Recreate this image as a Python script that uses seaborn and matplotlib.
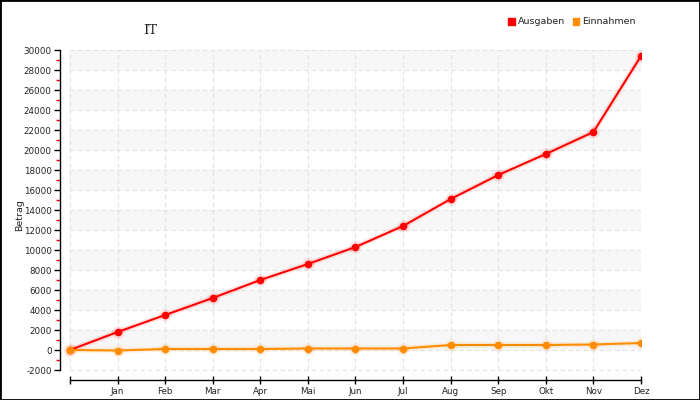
import matplotlib
matplotlib.use("Agg")
import matplotlib.pyplot as plt
import matplotlib.patches as mpatches
import pandas as pd
import seaborn as sns

# Data (first point is an unlabelled start position)
months = ["", "Jan", "Feb", "Mar", "Apr", "Mai", "Jun", "Jul", "Aug", "Sep", "Okt", "Nov", "Dez"]
ausgaben = [0, 1800, 3500, 5200, 7000, 8600, 10300, 12400, 15100, 17500, 19600, 21800, 29400]
einnahmen = [0, -50, 100, 100, 100, 150, 150, 150, 500, 500, 500, 550, 700]

df = pd.DataFrame({"pos": list(range(len(months))) * 2,
                   "Betrag": ausgaben + einnahmen,
                   "Serie": ["Ausgaben"] * len(months) + ["Einnahmen"] * len(months)})
colors = {"Ausgaben": "#ff0000", "Einnahmen": "#ff8c00"}

sns.set_style("white")
plt.rcParams["font.family"] = ["DejaVu Sans"]
plt.rcParams["text.color"] = "#222222"

fig = plt.figure(figsize=(7, 4), dpi=100)
W, H = 700, 400
ax = fig.add_axes([60 / W, 1 - 380 / H, (641 - 60) / W, (380 - 50) / H])

n = len(months) - 1
ax.set_xlim(-10 / 47.6, n)
ax.set_ylim(-3000, 30000)

# alternating bands and dashed grid
for lo in range(0, 30000, 4000):
    ax.axhspan(lo, lo + 2000, xmin=(10 / 47.6) / (n + 10 / 47.6), xmax=1,
               color="#f7f7f7", zorder=0, lw=0)
ax.hlines(range(-2000, 30001, 2000), 0, n, colors="#e2e2e2", linestyles=(0, (4, 3)), lw=0.8, zorder=1)
ax.vlines(range(0, n + 1), -2000, 30000, colors="#e2e2e2", linestyles=(0, (4, 3)), lw=0.8, zorder=1)

# glow under the lines
for name, vals in [("Ausgaben", ausgaben), ("Einnahmen", einnahmen)]:
    ax.plot(range(len(vals)), vals, color=colors[name], lw=4, alpha=0.1, zorder=2,
            marker="o", ms=9, mec="none", solid_capstyle="round")

sns.lineplot(data=df, x="pos", y="Betrag", hue="Serie", palette=colors, ax=ax,
             marker="o", markersize=5.5, markeredgewidth=0, linewidth=1.5, legend=False, zorder=3)

ax.set_xlabel("")
ax.set_ylabel("Betrag", fontsize=6.8, color="#222222")
ax.set_xticks(range(len(months)))
ax.set_xticklabels(months, fontsize=6.3)
ax.set_yticks(range(-2000, 30001, 2000))
ax.set_yticklabels([str(v) for v in range(-2000, 30001, 2000)], fontsize=6.3)
ax.set_yticks(range(-1000, 30000, 2000), minor=True)
ax.tick_params(axis="y", which="major", left=True, direction="out", length=4, width=1,
               color="black", pad=2, labelcolor="#222222")
ax.tick_params(axis="y", which="minor", left=True, direction="out", length=3, width=1, color="red")
ax.tick_params(axis="x", which="major", bottom=True, direction="inout", length=6, width=1,
               color="black", pad=2, labelcolor="#222222")

for s in ["top", "right"]:
    ax.spines[s].set_visible(False)
ax.spines["left"].set_bounds(-2000, 30000)
ax.spines["bottom"].set_bounds(0, n)
for s in ["left", "bottom"]:
    ax.spines[s].set_linewidth(1)
    ax.spines[s].set_color("black")
ax.yaxis.set_label_coords(-0.061, 0.5)

fig.text(150 / W, 1 - 30 / H, "IT", fontsize=9.5, family="DejaVu Serif", ha="center", va="center")

handles = [mpatches.Patch(color=colors[k], label=k) for k in ["Ausgaben", "Einnahmen"]]
fig.legend(handles=handles, loc="center", bbox_to_anchor=(572 / W, 1 - 22 / H), ncol=2,
           frameon=False, fontsize=6.8, handlelength=0.7, handleheight=0.7,
           handletextpad=0.3, columnspacing=0.8)

fig.patches.append(mpatches.Rectangle((0, 0), 1, 1, transform=fig.transFigure,
                                      fill=False, edgecolor="black", lw=2))

fig.savefig("out.png", dpi=100)
